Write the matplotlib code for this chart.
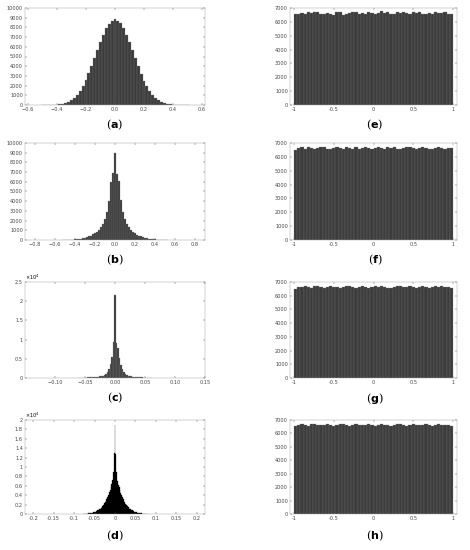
import matplotlib
matplotlib.use("Agg")
import matplotlib.pyplot as plt
import numpy as np

# ---- data (bin centres and counts) ----
# (a) gaussian-like, bin width 0.02
a_counts = [1, 3, 7, 13, 25, 45, 75, 130, 210, 330, 500, 750, 1050, 1450, 1950,
            2550, 3250, 4000, 4850, 5700, 6500, 7250, 7900, 8400, 8700, 8850,
            8650, 8450, 7950, 7200, 6450, 5650, 4800, 4000, 3200, 2500, 1950,
            1450, 1050, 740, 500, 330, 210, 130, 75, 45, 25, 13, 7, 3, 1]
a_start = -0.5

# (b) peaked, bin width 0.02
b_counts = [5, 10, 15, 25, 35, 50, 70, 90, 120, 150, 190, 240, 300, 370, 460,
            570, 700, 850, 1050, 1300, 1700, 2200, 2900, 4000, 6000, 6900, 9000,
            6800, 6100, 4100, 2900, 2150, 1650, 1300, 1000, 850, 690, 560, 450,
            370, 300, 240, 190, 150, 120, 90, 70, 50, 35, 25, 15, 10, 5]
b_start = -0.52

# (c) very peaked, bin width 0.0025
c_counts = [50, 60, 80, 90, 100, 120, 140, 160, 180, 200, 230, 260, 300, 350,
            420, 500, 620, 800, 1100, 1600, 2400, 3600, 5500, 9500, 21500, 9200,
            7800, 5200, 3500, 2300, 1500, 1050, 780, 600, 480, 400, 340, 290,
            250, 220, 190, 170, 150, 130, 110, 95, 80, 65, 50]
c_start = -0.06

# (d) sharp cusp, bin width 0.002
d_counts = [20, 30, 40, 55, 70, 90, 110, 135, 160, 190, 225, 265, 310, 360, 420,
            490, 570, 660, 760, 880, 1010, 1160, 1330, 1520, 1730, 1970, 2240,
            2540, 2870, 3250, 3650, 4100, 4600, 5100, 5700, 6300, 7200, 9000,
            13000, 19000, 12800, 8900, 7100, 6250, 5650, 5050, 4550, 4080, 3630,
            3230, 2860, 2520, 2230, 1960, 1720, 1510, 1320, 1150, 1000, 870, 750,
            650, 560, 480, 410, 350, 300, 260, 220, 185, 155, 130, 105, 85, 68,
            52, 40, 30, 20]
d_start = -0.078

# (e)-(h) uniform on [-1, 1], 50 bins
e_counts = [6550, 6600, 6620, 6540, 6680, 6650, 6700, 6720, 6600, 6560, 6640, 6580,
            6520, 6680, 6700, 6480, 6560, 6620, 6700, 6680, 6600, 6660, 6580, 6700,
            6640, 6560, 6620, 6780, 6650, 6700, 6540, 6600, 6680, 6620, 6700, 6640,
            6560, 6680, 6620, 6700, 6600, 6540, 6660, 6580, 6700, 6620, 6640, 6680,
            6600, 6560]
f_counts = [6500, 6620, 6680, 6600, 6700, 6640, 6560, 6620, 6700, 6680, 6600, 6540,
            6620, 6700, 6650, 6580, 6720, 6640, 6600, 6680, 6560, 6620, 6700, 6650,
            6580, 6640, 6700, 6620, 6560, 6680, 6640, 6700, 6600, 6560, 6620, 6680,
            6700, 6640, 6580, 6620, 6700, 6660, 6600, 6540, 6620, 6680, 6640, 6600,
            6660, 6620]
g_counts = [6480, 6600, 6660, 6700, 6620, 6560, 6680, 6720, 6640, 6580, 6620, 6700,
            6660, 6600, 6540, 6620, 6680, 6700, 6640, 6580, 6660, 6700, 6620, 6560,
            6600, 6680, 6640, 6700, 6620, 6580, 6540, 6640, 6700, 6680, 6600, 6620,
            6700, 6660, 6580, 6640, 6700, 6620, 6560, 6600, 6680, 6640, 6700, 6660,
            6600, 6580]
h_counts = [6560, 6640, 6700, 6620, 6580, 6680, 6720, 6640, 6600, 6660, 6700, 6620,
            6560, 6640, 6700, 6680, 6600, 6560, 6620, 6700, 6660, 6600, 6640, 6700,
            6620, 6580, 6660, 6720, 6640, 6600, 6560, 6620, 6700, 6680, 6620, 6580,
            6640, 6700, 6660, 6600, 6620, 6680, 6640, 6580, 6620, 6700, 6660, 6640,
            6600, 6580]

BAR = "#3c3c3c"
EDGE = "#7a7a7a"

fig = plt.figure(figsize=(4.7, 5.5), dpi=100)
fig.patch.set_facecolor("white")
H = 550.0

def make_ax(x0, x1, top, bot):
    ax = fig.add_axes([x0 / 470, 1 - bot / H, (x1 - x0) / 470, (bot - top) / H])
    ax.tick_params(labelsize=3.6, length=1.5, width=0.3, pad=1.5,
                   top=True, right=True, direction="in", colors="#444")
    for s in ax.spines.values():
        s.set_linewidth(0.3)
        s.set_color("#999")
    return ax

def bars(ax, start, width, counts, color=BAR, edge=EDGE):
    x = start + width * np.arange(len(counts))
    ax.bar(x, counts, width=width, color=color, edgecolor=edge, linewidth=0.2)

def label(x, y, letter):
    fig.text(x / 470, 1 - y / H, "(" + r"$\mathbf{" + letter + "}$" + ")",
             ha="center", va="center", fontsize=8, family="DejaVu Serif")

rows = [(8, 105, 125), (143, 240, 260), (282, 378, 398), (420, 514, 536)]

# left column
ax = make_ax(25, 205, *rows[0][:2])
bars(ax, a_start, 0.02, a_counts)
ax.set_xlim(-0.62, 0.62); ax.set_ylim(0, 10000)
ax.set_xticks(np.arange(-0.6, 0.61, 0.2)); ax.set_yticks(np.arange(0, 10001, 1000))

ax = make_ax(25, 205, *rows[1][:2])
bars(ax, b_start, 0.02, b_counts)
ax.set_xlim(-0.9, 0.9); ax.set_ylim(0, 10000)
ax.set_xticks(np.arange(-0.8, 0.81, 0.2)); ax.set_yticks(np.arange(0, 10001, 1000))

ax = make_ax(25, 205, *rows[2][:2])
bars(ax, c_start, 0.0025, c_counts)
ax.set_xlim(-0.15, 0.15); ax.set_ylim(0, 25000)
ax.set_xticks([-0.1, -0.05, 0, 0.05, 0.1, 0.15])
ax.set_yticks(np.arange(0, 25001, 5000))
ax.set_yticklabels(["0", "0.5", "1", "1.5", "2", "2.5"])
ax.text(0.0, 1.0, r"$\times10^4$", transform=ax.transAxes, fontsize=3.6, ha="left", va="bottom")

ax = make_ax(25, 205, *rows[3][:2])
bars(ax, d_start, 0.002, d_counts, color="black", edge="black")
ax.set_xlim(-0.22, 0.22); ax.set_ylim(0, 20000)
ax.set_xticks(np.arange(-0.2, 0.201, 0.05))
ax.set_xticklabels(["-0.2", "-0.15", "-0.1", "-0.05", "0", "0.05", "0.1", "0.15", "0.2"])
ax.set_yticks(np.arange(0, 20001, 2000))
ax.set_yticklabels(["0", "0.2", "0.4", "0.6", "0.8", "1", "1.2", "1.4", "1.6", "1.8", "2"])
ax.text(0.0, 1.0, r"$\times10^4$", transform=ax.transAxes, fontsize=3.6, ha="left", va="bottom")

# right column
for (top, bot, _), counts in zip(rows, [e_counts, f_counts, g_counts, h_counts]):
    ax = make_ax(290, 457, top, bot)
    bars(ax, -0.98, 0.04, counts)
    ax.set_xlim(-1.05, 1.05); ax.set_ylim(0, 7000)
    ax.set_xticks([-1, -0.5, 0, 0.5, 1])
    ax.set_xticklabels(["-1", "-0.5", "0", "0.5", "1"])
    ax.set_yticks(np.arange(0, 7001, 1000))

for (_, _, ly), la, lb in zip(rows, "abcd", "efgh"):
    label(115, ly, la)
    label(375, ly, lb)

fig.savefig("out.png", dpi=100, facecolor="white")
